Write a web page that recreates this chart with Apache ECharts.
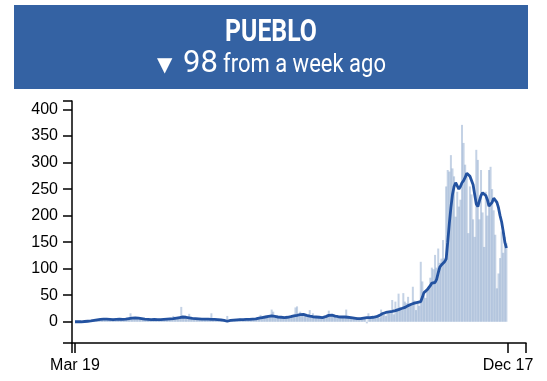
<!DOCTYPE html>
<html>
<head>
<meta charset="utf-8">
<script src="https://cdn.jsdelivr.net/npm/echarts@6/dist/echarts.min.js"></script>
<style>
html,body{margin:0;padding:0;background:#fff;}
#chart{width:547px;height:381px;}
</style>
</head>
<body>
<div id="chart"></div>
<script>
// ---- data (day index 0 = Mar 19) ----
const title = 'PUEBLO';
const changeValue = '98';
const changeText = 'from a week ago';
const xTickDays = [0, 273];
const xTickLabels = ['Mar 19', 'Dec 17'];
const yTicks = [0, 50, 100, 150, 200, 250, 300, 350, 400];

// daily new cases
const dailyCases = [
  0,0,1,0,0,1,0,2,1,0,2,                     // d0-10
  3,2,4,5,3,6,4,7,5,                         // d11-19
  6,4,3,5,6,4,3,7,5,4,6,3,5,6,7,             // d20-34
  16,5,8,6,9,7,5,6,                          // d35-42
  4,5,3,6,4,2,5,4,6,3,5,4,3,6,5,4,7,5,6,11,5,7,8, // d43-65
  6,28,8,9,7,6,15,                           // d66-72
  6,5,7,4,6,5,6,3,5,7,4,6,5,16,4,3,5,4,2,4,3,1, // d73-94
  0,11,1,                                    // d95-97
  2,4,3,5,3,4,6,3,4,5,4,6,5,4,7,5,6,7,       // d98-115
  9,13,8,7,10,9,12,11,23,19,8,               // d116-126
  10,8,9,7,10,8,9,7,10,9,11,                 // d127-137
  12,27,29,10,19,13,15,                      // d138-144
  12,11,9,22,10,16,8,9,7,10,8,9,7,           // d145-157
  10,14,21,12,14,9,                          // d158-163
  11,8,10,9,8,11,7,23,9,                     // d164-172
  8,7,9,6,5,8,6,5,                           // d173-180
  7,8,6,-3,16,9,7,10,8,                      // d181-189
  9,12,8,23,14,15,11,18,16,20,41,            // d190-200
  14,38,25,53,28,22,54,38,35,47,             // d201-210
  30,33,66,40,22,36,30,                      // d211-217
  113,76,50,45,                              // d218-221
  57,66,83,102,99,                           // d222-226
  126,102,138,                               // d227-229
  111,119,154,120,                           // d230-233
  255,286,283,314,289,274,198,245,217,230,   // d234-243
  371,337,296,274,167,255,240,193,160,324,   // d244-253
  305,193,286,206,141,245,200,286,292,250,   // d254-263
  210,164,63,91,120,170,130,160,148          // d264-272
];

// 7-day average
const weeklyAvg = [
  0,0,0,0,0,0.5,0.5,1,1,1,1.5,
  2,2.5,3,3.5,4,4.5,5,5,5,
  5,4.5,4.5,4,4,4.5,4.5,5,5,4.5,4.5,5,5,5.5,6,
  6.5,7,7,7.5,7,7,6.5,6,
  5.5,5,4.5,4.5,4,4,4,4.5,4.5,4,4,4,4.5,4.5,5,5,5,5.5,5.5,6,6.5,7,7.5,
  8,8.5,9,9,8.5,8,7.5,
  7,6.5,6,6,5.5,5.5,5,5,5,5,5,5,5,4.5,4.5,4.5,4,4,3.5,3.5,3,2.5,
  1.5,1,1.5,
  2.5,3,3,3.5,3.5,4,4,4,4,4.5,4.5,4.5,4.5,5,5,5,5.5,6,
  7,7.5,8,8.5,9,9.5,10,11,11,10.5,10,
  9.5,9,9,8.5,8.5,8,8,8.5,9,9.5,10,
  11,11.5,12,13,13.5,14,14,
  13,12,11,10.5,10,9.5,9,9,8.5,8.5,8.5,8,8.5,
  9.5,11,12,13,12.5,11.5,
  10.5,10,9.5,9,9,9,9,8.5,8.5,
  8,8,7.5,7,6.5,6,6,6,
  6.5,7,7.5,8,8,8,8.5,8.5,9,
  9.5,10.5,12,14,15.5,16.5,17.5,18,18.5,19,19.5,
  20,21,22,23,24,25,26,27,28.5,30.5,
  32,33,34,35,36,36.5,37,
  38,46,55,58,
  60,63,68,73,75,
  74,80,92,
  103,107,110,113,
  118,150,185,215,240,255,262,260,250,255,
  262,266,272,280,277,274,266,258,240,222,
  217,228,238,243,244,238,230,218,216,225,
  233,236,225,215,200,188,170,150,139
];

const barData = dailyCases.map((v, i) => [i, v]);
const lineData = weeklyAvg.map((v, i) => [i, v]);

const xMin = -1.89, xMax = 284.35, yMin = -40, yMax = 416;
const axisFont = "'Liberation Sans', Arial, Helvetica, sans-serif";

const chart = echarts.init(document.getElementById('chart'), null, {renderer: 'canvas'});
chart.setOption({
  animation: false,
  backgroundColor: '#fff',
  graphic: [
    {type: 'rect', left: 14, top: 5, shape: {width: 514, height: 84}, style: {fill: '#3462a3'}, silent: true},
    {type: 'text', x: 271, y: 33, scaleX: 0.8,
      style: {text: title, fill: '#fff', fontFamily: 'Roboto', fontWeight: 'bold', fontSize: 31, textAlign: 'center', textVerticalAlign: 'middle'}},
    {type: 'text', x: 157, y: 66, 
      style: {text: '▼', fill: '#fff', fontFamily: "'DejaVu Sans'", fontSize: 20, textAlign: 'left', textVerticalAlign: 'middle'}},
    {type: 'text', x: 183, y: 64,
      style: {text: changeValue, fill: '#fff', fontFamily: 'Roboto', fontSize: 31, textAlign: 'left', textVerticalAlign: 'middle'}},
    {type: 'text', x: 223, y: 66, scaleX: 0.88,
      style: {text: changeText, fill: '#fff', fontFamily: 'Roboto', fontSize: 25, textAlign: 'left', textVerticalAlign: 'middle'}}
  ],
  grid: {left: 72, right: 21, top: 101, bottom: 38, containLabel: false},
  xAxis: {
    type: 'value', min: xMin, max: xMax,
    splitLine: {show: false},
    axisLine: {show: true, onZero: false, lineStyle: {color: '#000', width: 1.5}},
    axisTick: {show: true, length: 10, inside: false, customValues: [xMin, xTickDays[0], xTickDays[1], xMax], lineStyle: {color: '#000', width: 1.5}},
    axisLabel: {show: true, customValues: xTickDays, margin: 15, color: '#000', fontSize: 16, fontFamily: axisFont,
      formatter: v => xTickLabels[xTickDays.indexOf(Math.round(v))] || ''}
  },
  yAxis: {
    type: 'value', min: yMin, max: yMax,
    splitLine: {show: false},
    axisLine: {show: true, onZero: false, lineStyle: {color: '#000', width: 1.5}},
    axisTick: {show: true, length: 9, inside: false, customValues: [yMin].concat(yTicks, [yMax]), lineStyle: {color: '#000', width: 1.5}},
    axisLabel: {show: true, customValues: yTicks, margin: 14, color: '#000', fontSize: 16, fontFamily: axisFont}
  },
  series: [
    {type: 'bar', data: barData, barWidth: 2, itemStyle: {color: 'rgba(60,105,170,0.3)'}, silent: true, z: 1},
    {type: 'line', data: lineData, showSymbol: false, symbol: 'none', lineStyle: {color: '#2352a0', width: 2.8}, silent: true, z: 3}
  ]
});
</script>
</body>
</html>
